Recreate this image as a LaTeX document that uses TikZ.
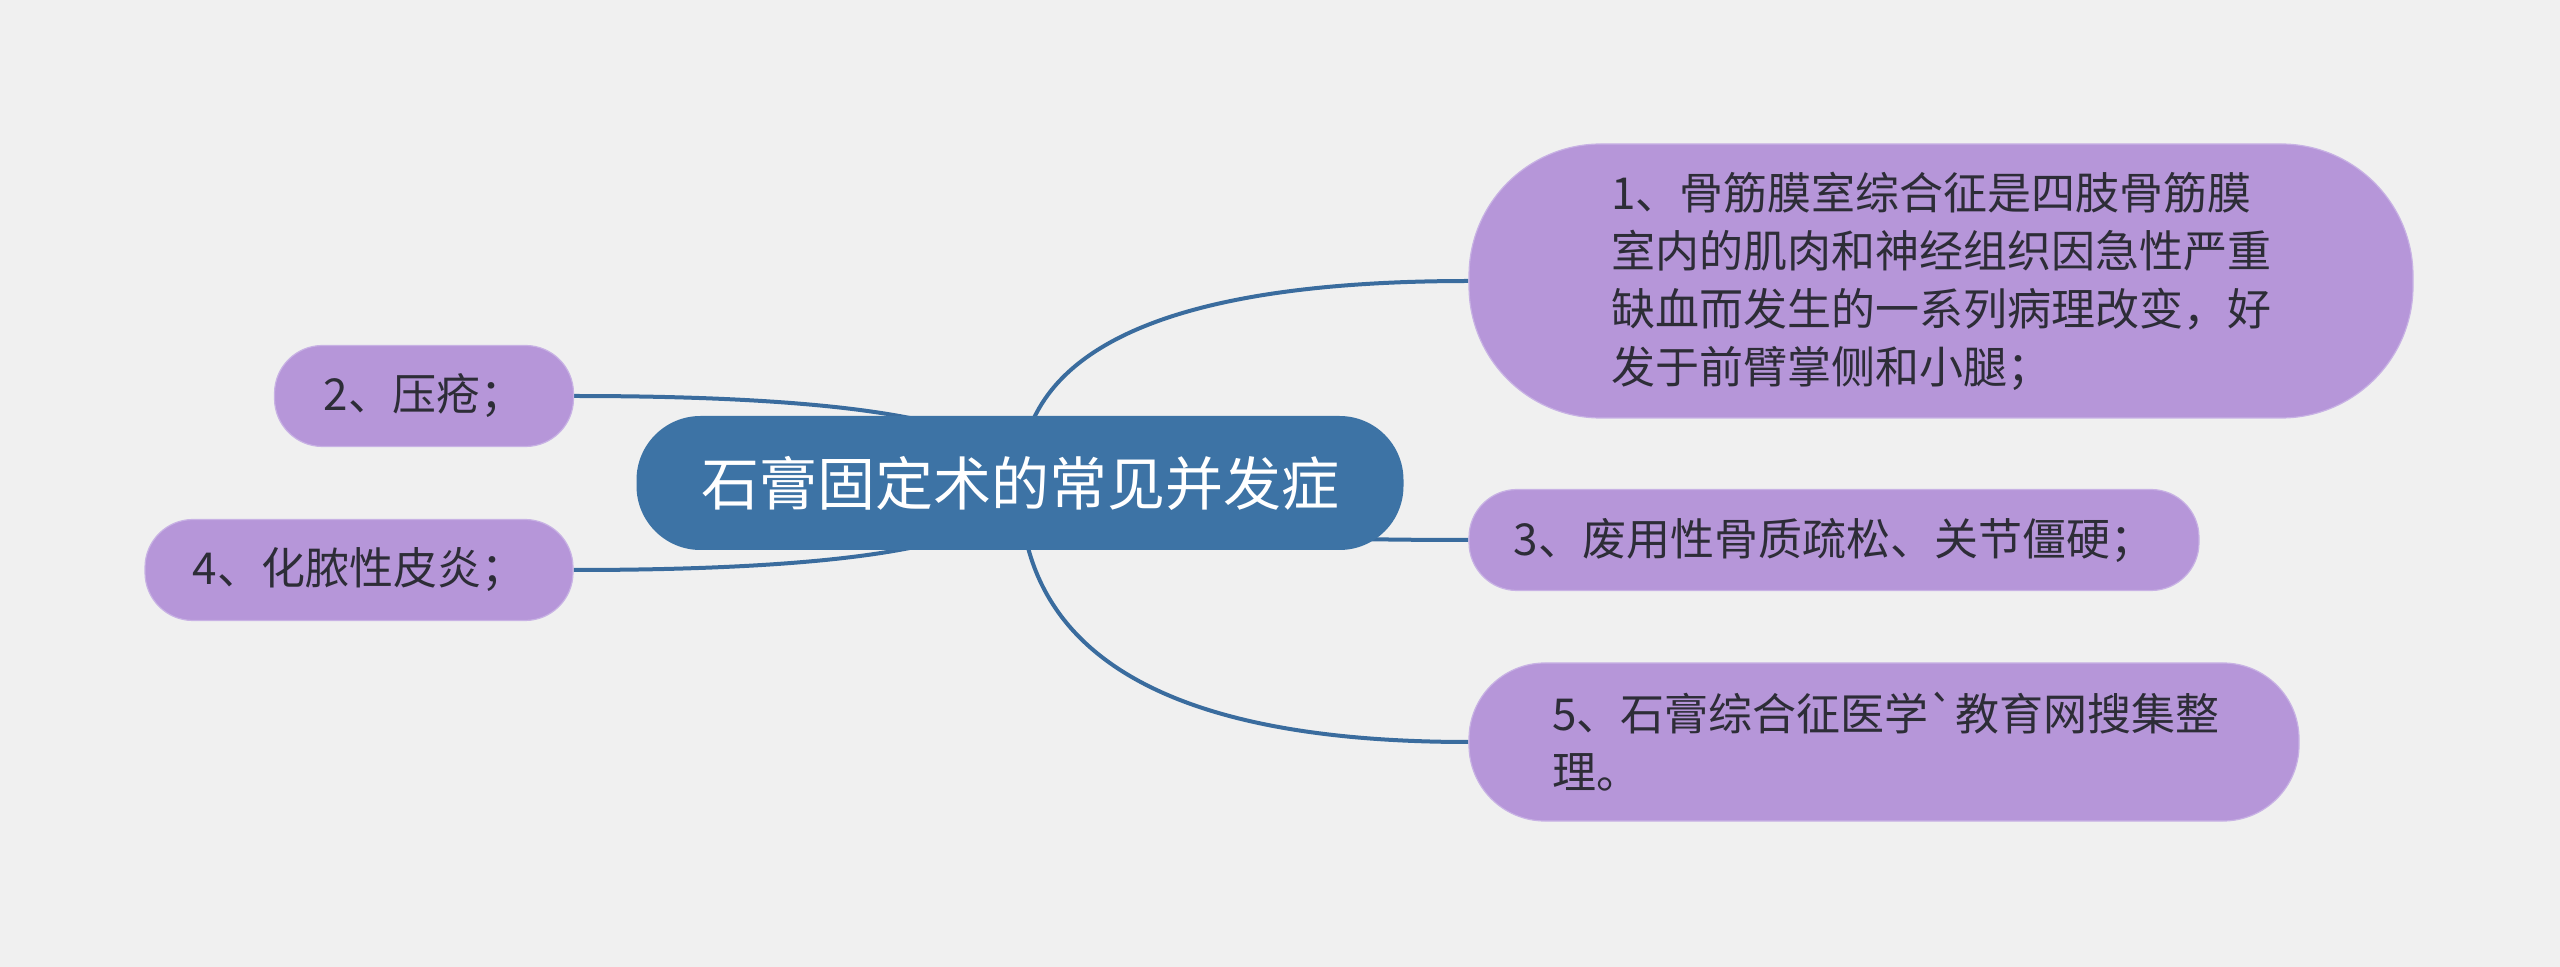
\documentclass[tikz,border=0pt]{standalone}
\usepackage{fontspec}
\newfontfamily\cjk{Noto Sans CJK SC}
\definecolor{pagebg}{RGB}{240,240,240}
\definecolor{hubblue}{RGB}{61,115,165}
\definecolor{linkblue}{RGB}{58,108,158}
\definecolor{leafpurple}{RGB}{182,150,217}
\definecolor{leafedge}{RGB}{200,178,228}
\definecolor{inkdark}{RGB}{45,45,55}
\usetikzlibrary{calc}
\pgfdeclarelayer{bg}
\pgfsetlayers{bg,main}

\begin{document}
\begin{tikzpicture}[x=0.5pt, y=-0.5pt,
      hub/.style={fill=hubblue, rounded corners=32pt,
                  minimum width=383.5pt, minimum height=67pt,
                  text=white, font=\cjk\fontsize{29pt}{35pt}\selectfont},
      leaf/.style={draw=leafedge, line width=0.6pt, fill=leafpurple,
                   rounded corners=24pt, minimum height=50.5pt,
                   text=inkdark, font=\cjk\fontsize{22pt}{29pt}\selectfont},
      link/.style={draw=linkblue, line width=2pt},
      twig/.style={to path={.. controls ($(\tikztostart)!2/3!(\tikztostart |- \tikztotarget)$)
                   and ($(\tikztotarget)!2/3!(\tikztostart |- \tikztotarget)$) .. (\tikztotarget)}}
  ]
    \useasboundingbox (0,0) rectangle (2560,967);
    \begin{pgfonlayer}{bg}
      \fill[pagebg] (0,0) rectangle (2560,967);
    \end{pgfonlayer}

    \node[hub] (hub) at (1020,483) {石膏固定术的常见并发症};

    \node[leaf, minimum width=472pt, minimum height=137pt, rounded corners=66pt,
          text width=330pt, align=left] (c1) at (1941,281)
      {1、骨筋膜室综合征是四肢骨筋膜\\室内的肌肉和神经组织因急性严重\\缺血而发生的一系列病理改变，好\\发于前臂掌侧和小腿；};
    \node[leaf, minimum width=149.5pt] (c2) at (424,396) {2、压疮；};
    \node[leaf, minimum width=365pt] (c3) at (1834,540) {3、废用性骨质疏松、关节僵硬；};
    \node[leaf, minimum width=214pt] (c4) at (359,570) {4、化脓性皮炎；};
    \node[leaf, minimum width=415pt, minimum height=79pt, rounded corners=38pt,
          text width=332pt, align=left] (c5) at (1884,742)
      {5、石膏综合征医学`教育网搜集整\\理。};

    \begin{pgfonlayer}{bg}
      \draw[link] (hub.center) to[twig] (c1.west);
      \draw[link] (hub.center) to[twig] (c3.west);
      \draw[link] (hub.center) to[twig] (c5.west);
      \draw[link] (hub.center) to[twig] (c2.east);
      \draw[link] (hub.center) to[twig] (c4.east);
    \end{pgfonlayer}
  \end{tikzpicture}
\end{document}
